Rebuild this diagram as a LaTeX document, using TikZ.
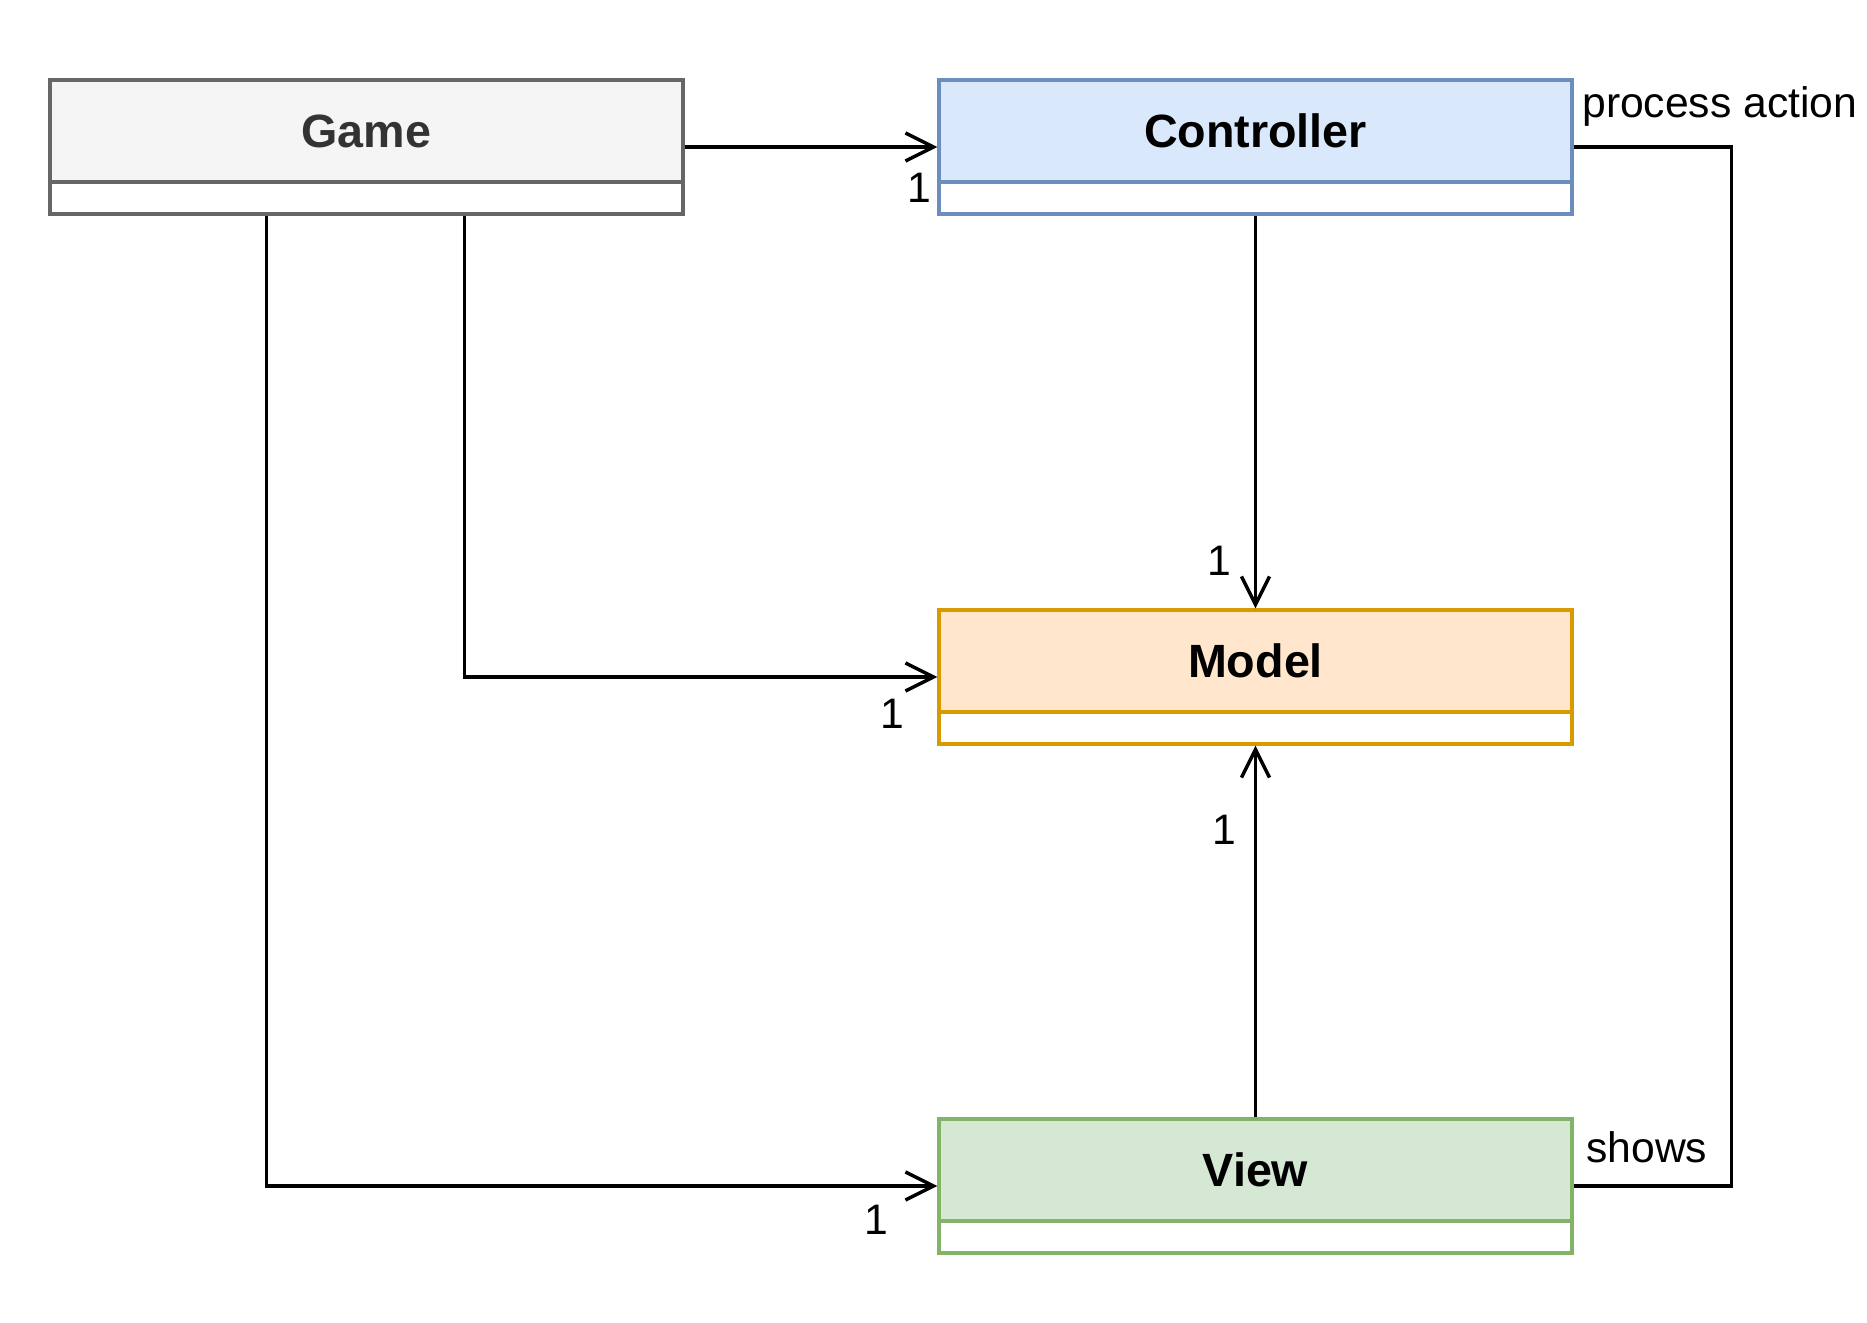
\documentclass[tikz,border=0pt]{standalone}
\usepackage{fontspec}
\setmainfont{Liberation Sans}
\usetikzlibrary{arrows.meta,calc}
\definecolor{gamefill}{HTML}{F5F5F5}
\definecolor{gamedraw}{HTML}{666666}
\definecolor{gametext}{HTML}{333333}
\definecolor{ctrlfill}{HTML}{DAE8FC}
\definecolor{ctrldraw}{HTML}{6C8EBF}
\definecolor{modelfill}{HTML}{FFE6CC}
\definecolor{modeldraw}{HTML}{D79B00}
\definecolor{viewfill}{HTML}{D5E8D4}
\definecolor{viewdraw}{HTML}{82B366}
\tikzset{
  clsbox/.style={draw=#1, line width=2.5pt, fill=white, rectangle, inner sep=0pt,
    minimum width=474.75pt, minimum height=100.5pt},
  clshead/.style={draw=#1, line width=2.5pt, rectangle, inner sep=0pt,
    minimum width=474.75pt, minimum height=76.5pt, anchor=north,
    font=\fontsize{35}{42}\selectfont\bfseries},
  edge/.style={line width=2.6pt, draw=black},
  arr/.style={-{Straight Barb[length=21pt,width=21pt,line width=2.6pt]}},
  lbl/.style={font=\fontsize{32}{38}\selectfont, inner sep=0pt},
}
\begin{document}
\begin{tikzpicture}[x=0.75pt,y=-0.75pt]
\useasboundingbox (0,0) rectangle (1867,1323);

% class boxes
\node[clsbox=gamedraw] (game) at (366.5,147) {};
\node[clshead=gamedraw, fill=gamefill, text=gametext] (gameh) at (game.north) {Game};

\node[clsbox=ctrldraw] (ctrl) at (1255.5,147) {};
\node[clshead=ctrldraw, fill=ctrlfill] (ctrlh) at (ctrl.north) {Controller};

\node[clsbox=modeldraw] (model) at (1255.5,677) {};
\node[clshead=modeldraw, fill=modelfill] (modelh) at (model.north) {Model};

\node[clsbox=viewdraw] (view) at (1255.5,1186) {};
\node[clshead=viewdraw, fill=viewfill] (viewh) at (view.north) {View};

% connector start points on Game's bottom edge
\coordinate (gm) at ($(game.south west)+(416,0)$);
\coordinate (gv) at ($(game.south west)+(218,0)$);

% connectors
\draw[edge, arr] (game.east) -- (ctrl.west);
\draw[edge, arr] (ctrl.south) -- (model.north);
\draw[edge, arr] (gm) |- (model.west);
\draw[edge, arr] (gv) |- (view.west);
\draw[edge, arr] (view.north) -- (model.south);
\draw[edge] (ctrl.east) -- ++(158,0) |- (view.east);

% multiplicity labels
\node[lbl] (m1) at (919,188) {1};
\node[lbl] (m2) at (1219,561) {1};
\node[lbl] (m3) at (892,714) {1};
\node[lbl] (m4) at (1224,830) {1};
\node[lbl] (m5) at (876,1220) {1};

% role labels
\node[lbl, anchor=west] (pa) at (1582,106) {process action};
\node[lbl, anchor=west] (sh) at (1586,1147) {shows};
\end{tikzpicture}
\end{document}
